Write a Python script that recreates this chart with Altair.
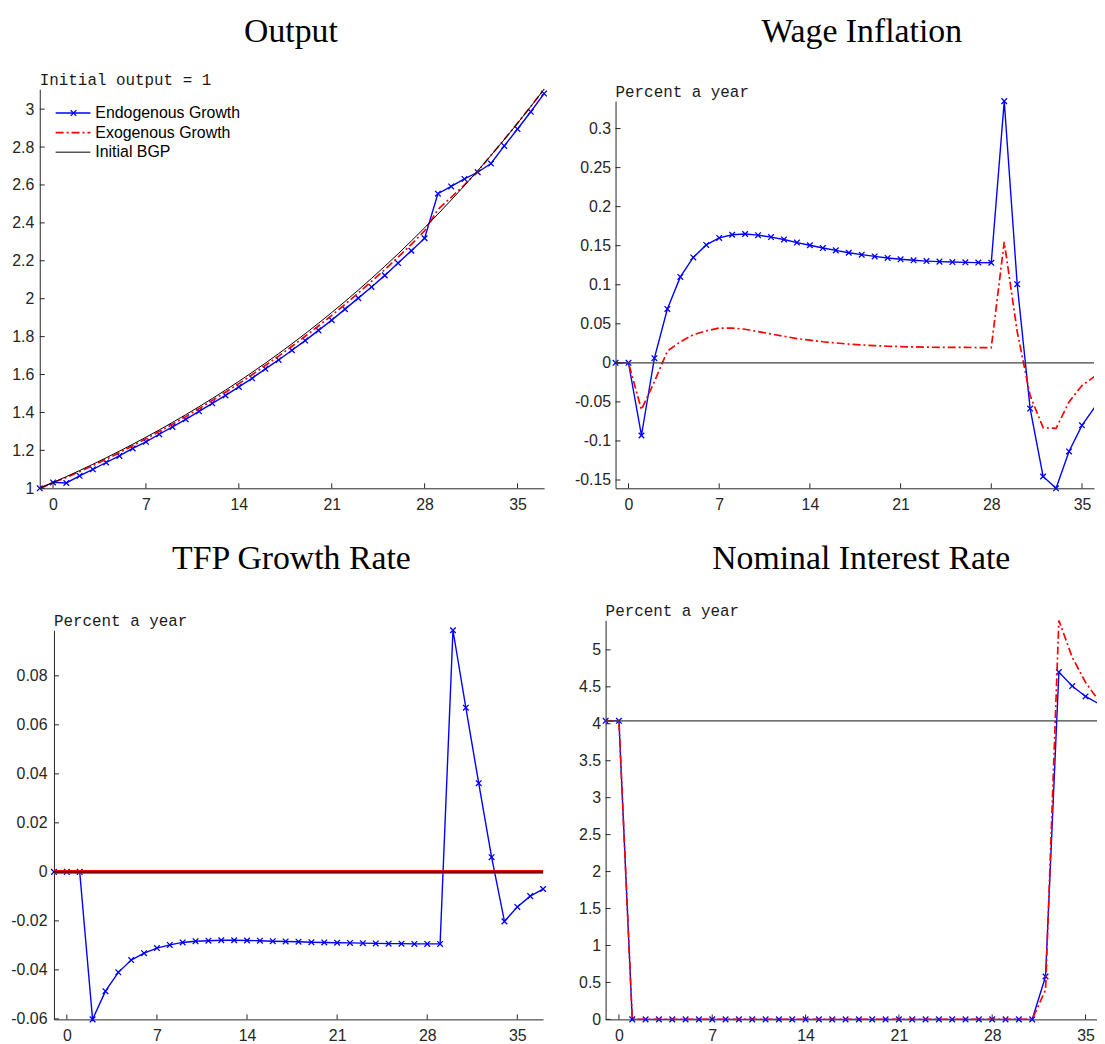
import altair as alt
import pandas as pd

# ---------------- data ----------------
periods = list(range(-1, 38))
x_ticks = [0, 7, 14, 21, 28, 35]

titles = ["Output", "Wage Inflation", "TFP Growth Rate", "Nominal Interest Rate"]
notes = ["Initial output = 1", "Percent a year", "Percent a year", "Percent a year"]
legend_labels = ["Endogenous Growth", "Exogenous Growth", "Initial BGP"]

output_endo = [1.0, 1.031, 1.028, 1.066, 1.10, 1.136, 1.171, 1.21, 1.245, 1.285,
               1.324, 1.364, 1.406, 1.448, 1.49, 1.535, 1.58, 1.63, 1.677, 1.728,
               1.779, 1.833, 1.887, 1.945, 2.003, 2.062, 2.123, 2.188, 2.253, 2.319,
               2.554, 2.592, 2.632, 2.667, 2.713, 2.806, 2.895, 2.986, 3.082]
output_exo = [1.0, 1.0303, 1.057, 1.088, 1.120, 1.153, 1.188, 1.224, 1.261, 1.299,
              1.338, 1.378, 1.420, 1.463, 1.507, 1.552, 1.599, 1.648, 1.697, 1.749,
              1.802, 1.856, 1.912, 1.970, 2.030, 2.091, 2.154, 2.219, 2.287, 2.358,
              2.470, 2.535, 2.600, 2.672, 2.756, 2.840, 2.926, 3.014, 3.105]
output_bgp = [1.0, 1.0303, 1.0614, 1.0936, 1.1267, 1.1608, 1.1959, 1.2321, 1.2694, 1.3078,
              1.3474, 1.3882, 1.4302, 1.4735, 1.5180, 1.5640, 1.6113, 1.6601, 1.7103, 1.7621,
              1.8154, 1.8704, 1.9270, 1.9853, 2.0454, 2.1073, 2.1711, 2.2368, 2.3045, 2.3742,
              2.4461, 2.5201, 2.5964, 2.6750, 2.7559, 2.8393, 2.9252, 3.0138, 3.1050]
output_yticks = [1.0, 1.2, 1.4, 1.6, 1.8, 2.0, 2.2, 2.4, 2.6, 2.8, 3.0]

wage_endo = [0.0, 0.0, -0.093, 0.006, 0.069, 0.110, 0.135, 0.151, 0.160, 0.164,
             0.165, 0.1635, 0.161, 0.158, 0.154, 0.1506, 0.147, 0.144, 0.141, 0.1385,
             0.1363, 0.1343, 0.1326, 0.1313, 0.1303, 0.1296, 0.1291, 0.1287, 0.1284, 0.1282,
             0.3351, 0.1007, -0.0585, -0.1455, -0.1606, -0.1134, -0.080, -0.0563, -0.037]
wage_exo = [0.0, 0.0, -0.060, -0.024, 0.015, 0.027, 0.036, 0.041, 0.0445, 0.0445,
            0.043, 0.040, 0.037, 0.034, 0.031, 0.029, 0.027, 0.0255, 0.024, 0.023,
            0.022, 0.0213, 0.0208, 0.0204, 0.0201, 0.0199, 0.0198, 0.0197, 0.0196, 0.0196,
            0.155, 0.040, -0.042, -0.083, -0.084, -0.050, -0.029, -0.017, -0.010]
wage_bgp = 0.0
wage_yticks = [-0.15, -0.1, -0.05, 0.0, 0.05, 0.1, 0.15, 0.2, 0.25, 0.3]

tfp_endo = [0.0, 0.0, 0.0, -0.0602, -0.0487, -0.041, -0.036, -0.0332, -0.0311, -0.0298,
            -0.0288, -0.0283, -0.0281, -0.0279, -0.0279, -0.028, -0.0281, -0.0283, -0.0284, -0.0285,
            -0.0287, -0.0288, -0.0289, -0.029, -0.0291, -0.0292, -0.0293, -0.0293, -0.0294, -0.0294,
            -0.0294, 0.0986, 0.067, 0.0362, 0.006, -0.0202, -0.0143, -0.0099, -0.007]
tfp_exo = [0.0, 0.0, 0.0, 0.0, 0.0, 0.0, 0.0, 0.0, 0.0, 0.0,
           0.0, 0.0, 0.0, 0.0, 0.0, 0.0, 0.0, 0.0, 0.0, 0.0,
           0.0, 0.0, 0.0, 0.0, 0.0, 0.0, 0.0, 0.0, 0.0, 0.0,
           0.0, 0.0, 0.0, 0.0, 0.0, 0.0, 0.0, 0.0, 0.0]
tfp_bgp = 0.0
tfp_yticks = [-0.06, -0.04, -0.02, 0.0, 0.02, 0.04, 0.06, 0.08]

rate_endo = [4.04, 4.04, 0.0, 0.0, 0.0, 0.0, 0.0, 0.0, 0.0, 0.0,
             0.0, 0.0, 0.0, 0.0, 0.0, 0.0, 0.0, 0.0, 0.0, 0.0,
             0.0, 0.0, 0.0, 0.0, 0.0, 0.0, 0.0, 0.0, 0.0, 0.0,
             0.0, 0.0, 0.0, 0.58, 4.70, 4.51, 4.37, 4.27, 4.19]
rate_exo = [4.04, 4.04, 0.0, 0.0, 0.0, 0.0, 0.0, 0.0, 0.0, 0.0,
            0.0, 0.0, 0.0, 0.0, 0.0, 0.0, 0.0, 0.0, 0.0, 0.0,
            0.0, 0.0, 0.0, 0.0, 0.0, 0.0, 0.0, 0.0, 0.0, 0.0,
            0.0, 0.0, 0.0, 0.40, 5.40, 4.90, 4.56, 4.31, 4.17]
rate_bgp = 4.04
rate_yticks = [0.0, 0.5, 1.0, 1.5, 2.0, 2.5, 3.0, 3.5, 4.0, 4.5, 5.0]

# ---------------- styling ----------------
BLUE = "#0000FF"
RED = "#FF0000"
AX = "#262626"
SANS = "Liberation Sans"
SERIF = "Liberation Serif"
MONO = "Liberation Mono"
XMARK = "M-1,-1L1,1M-1,1L1,-1"
RED_DASH = dict(strokeWidth=1.7, strokeDash=[8, 3, 2, 3])
LABEL_EXPR = "replace(format(datum.value, '~g'), '\u2212', '-')"


def panel(title, note, endo, exo, ydom, yticks, xdom, width, height, title_offset,
          ylab_pad, title_dx=0, bgp_curve=None, bgp_level=None, red_style=None,
          clip=False, legend=False, bgp_color="#000000", bgp_width=1.0,
          x_range=None, y_range=None, left=0.0, top=0.0):
    red_style = red_style or RED_DASH
    df = pd.DataFrame({"t": periods, "endo": endo, "exo": exo})
    xkw = {"range": x_range} if x_range else {}
    ykw = {"range": y_range} if y_range else {}
    xs = alt.Scale(domain=xdom, nice=False, zero=False, **xkw)
    ys = alt.Scale(domain=ydom, nice=False, zero=False, **ykw)
    xax = alt.Axis(values=x_ticks, ticks=False, tickSize=0, labelPadding=8, labelFont=SANS,
                   labelFontSize=16, labelColor=AX, domainColor=AX, domainWidth=1,
                   grid=False, labelFlush=False, labelOverlap=False)
    yax = alt.Axis(values=yticks, ticks=False, tickSize=0, labelPadding=ylab_pad,
                   labelFont=SANS, labelFontSize=16, labelColor=AX, domainColor=AX,
                   domainWidth=1, grid=False, labelOverlap=False, labelExpr=LABEL_EXPR,
                   offset=-left)

    def X(f):
        return alt.X(f, type="quantitative", scale=xs, axis=xax, title=None)

    def Y(f):
        return alt.Y(f, type="quantitative", scale=ys, axis=yax, title=None)

    base = alt.Chart(df)
    layers = []
    layers.append(base.mark_line(color=BLUE, strokeWidth=1.4, clip=clip)
                  .encode(x=X("t"), y=Y("endo")))
    pts = base.mark_point(shape=XMARK, size=32, color=BLUE, strokeWidth=1.3,
                          filled=False, opacity=1)
    if clip:
        pts = pts.transform_filter(f"datum.t <= {xdom[1]}")
    layers.append(pts.encode(x=X("t"), y=Y("endo")))
    layers.append(base.mark_line(color=RED, clip=clip, **red_style)
                  .encode(x=X("t"), y=Y("exo")))
    if bgp_curve is not None:
        layers.append(alt.Chart(pd.DataFrame({"t": periods, "bgp": bgp_curve}))
                      .mark_line(color="#000000", strokeWidth=1.0, clip=clip)
                      .encode(x=X("t"), y=Y("bgp")))
    else:
        layers.append(alt.Chart(pd.DataFrame({"level": [bgp_level]}))
                      .mark_rule(color=bgp_color, strokeWidth=bgp_width, clip=clip)
                      .encode(y=Y("level"), x=X("xa"), x2=alt.X2("xb"))
                      .transform_calculate(xa=str(xdom[0]), xb=str(xdom[1])))
    # inward ticks (MATLAB style)
    layers.append(alt.Chart(pd.DataFrame({"v": yticks}))
                  .mark_rule(color=AX, strokeWidth=1)
                  .encode(y=Y("v"), x=alt.value(left), x2=alt.value(left + 5)))
    xt = [v for v in x_ticks if xdom[0] <= v <= xdom[1]]
    layers.append(alt.Chart(pd.DataFrame({"v": xt}))
                  .mark_rule(color=AX, strokeWidth=1)
                  .encode(x=X("v"), y=alt.value(height), y2=alt.value(height - 5)))
    # note above the axes
    layers.append(alt.Chart(pd.DataFrame({"note": [note]}))
                  .mark_text(align="left", baseline="alphabetic", font=MONO, fontSize=16,
                             color="#1a1a1a")
                  .encode(x=alt.value(left), y=alt.value(top - 4), text="note:N"))
    if legend:
        styles = [dict(color=BLUE, strokeWidth=1.4),
                  dict(color=RED, strokeWidth=1.7, strokeDash=[8, 3, 2, 3]),
                  dict(color="#000000", strokeWidth=1.0)]
        for i, lab in enumerate(legend_labels):
            yy = 24 + 19.7 * i
            ldf = pd.DataFrame({"label": [lab]})
            layers.append(alt.Chart(ldf).mark_rule(**styles[i])
                          .encode(x=alt.value(16), x2=alt.value(51), y=alt.value(yy)))
            if i == 0:
                layers.append(alt.Chart(ldf).mark_point(shape=XMARK, size=32, color=BLUE,
                                                        strokeWidth=1.3, filled=False, opacity=1)
                              .encode(x=alt.value(34), y=alt.value(yy)))
            layers.append(alt.Chart(ldf).mark_text(align="left", baseline="middle", font=SANS,
                                                   fontSize=16, color="#000000")
                          .encode(x=alt.value(56), y=alt.value(yy), text="label:N"))
    return alt.layer(*layers).properties(
        width=width, height=height,
        title=alt.TitleParams(text=title, font=SERIF, fontSize=34, fontWeight="normal",
                              color="#000000", anchor="middle", frame="group",
                              offset=title_offset, dx=title_dx))


p_output = panel(titles[0], notes[0], output_endo, output_exo, [1.0, 3.105], output_yticks,
                 [-1, 37], 508, 402, 24, 6, title_dx=-1, bgp_curve=output_bgp, legend=True)
p_wage = panel(titles[1], notes[1], wage_endo, wage_exo, [-0.1606, 0.3351], wage_yticks,
               [-1, 35.93], 482, 402, 36, 5, title_dx=7, bgp_level=wage_bgp, clip=True,
               bgp_color="#404040", bgp_width=1.4, y_range=[402, 12], top=12)
p_tfp = panel(titles[2], notes[2], tfp_endo, tfp_exo, [-0.0602, 0.0986], tfp_yticks,
              [-1, 37], 507, 402, 38, 7, title_dx=0, bgp_level=tfp_bgp, bgp_width=1.2,
              red_style=dict(strokeWidth=3.6), x_range=[14.3, 507], y_range=[402, 10],
              left=14.3, top=10)
p_rate = panel(titles[3], notes[3], rate_endo, rate_exo, [0.0, 5.40], rate_yticks,
               [-1, 35.86], 495, 402, 28, 5, title_dx=10, bgp_level=rate_bgp, clip=True,
               bgp_color="#404040", bgp_width=1.4)

row1 = alt.hconcat(p_output, p_wage, spacing=24)
row2 = alt.hconcat(p_tfp, p_rate, spacing=27)

chart = (alt.vconcat(row1, row2, spacing=30)
         .properties(padding={"left": 2, "top": 3, "right": 0, "bottom": 0},
                     background="white")
         .configure_view(stroke="transparent", strokeWidth=0))

chart.save("out.html", embed_options={"renderer": "svg", "actions": False})
